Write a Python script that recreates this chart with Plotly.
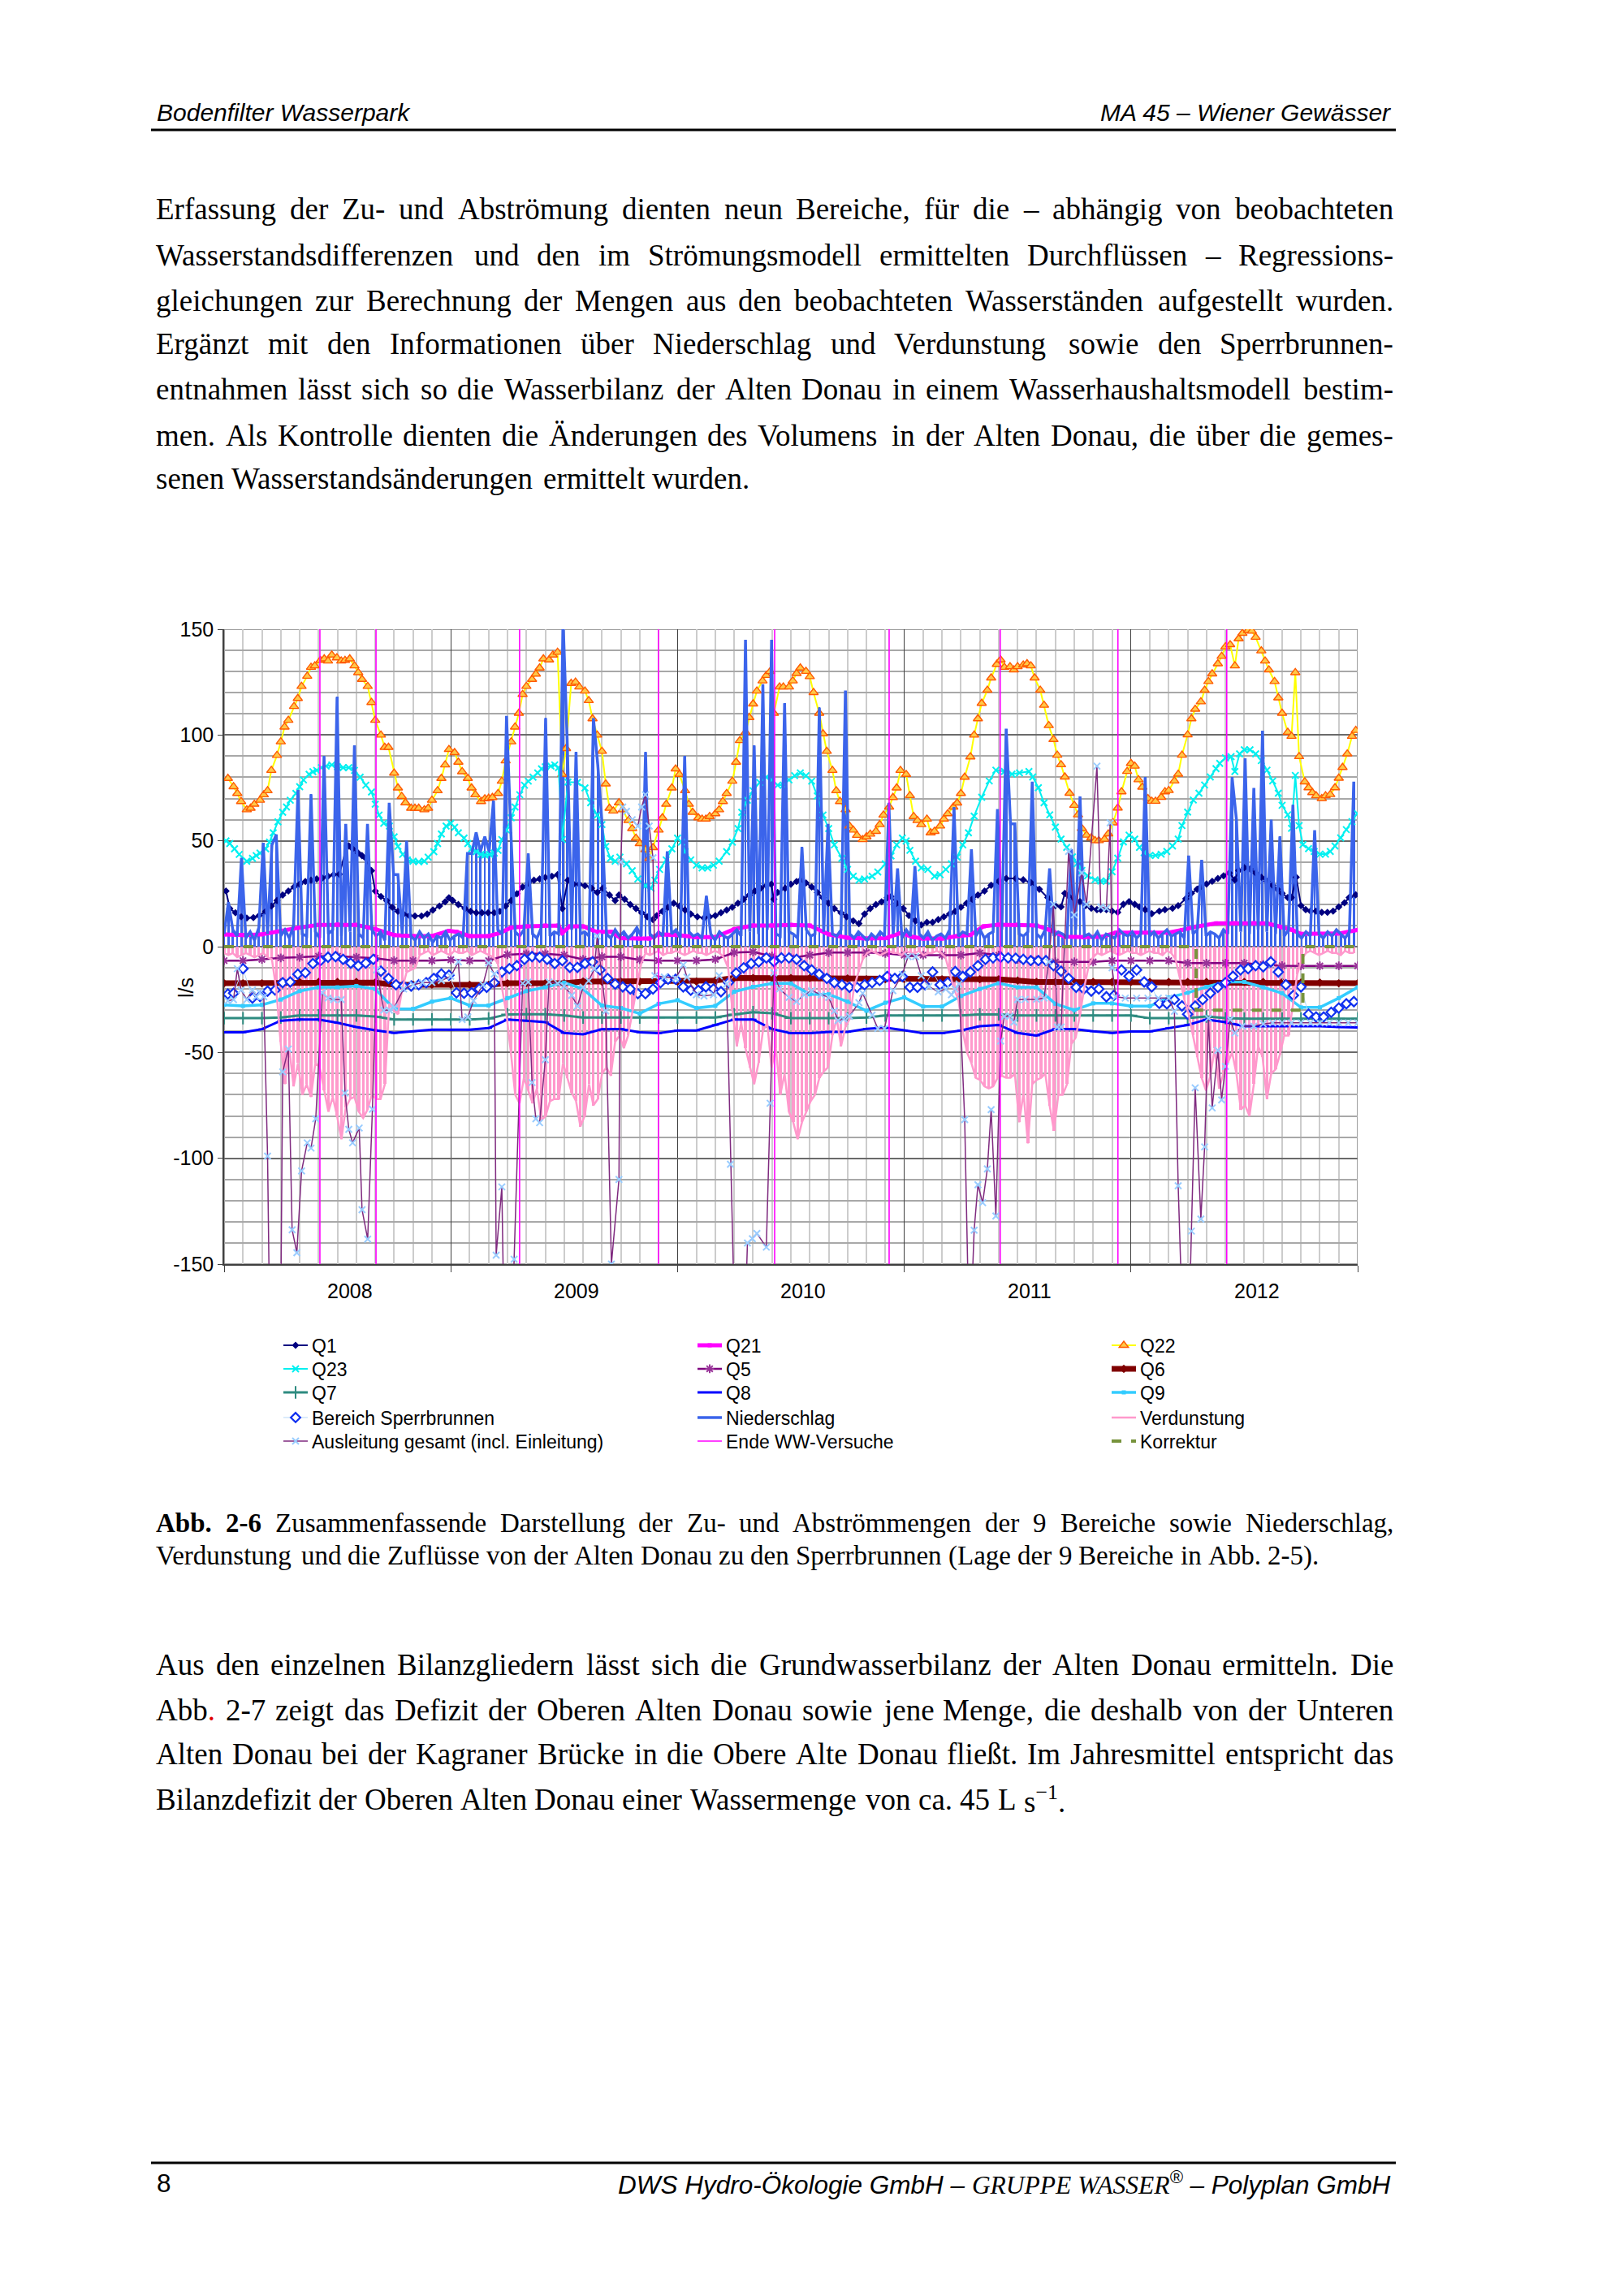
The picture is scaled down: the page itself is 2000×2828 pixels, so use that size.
import numpy as np
import plotly.graph_objects as go

W, H = 2000, 2828
PX0, PX1, PY0, PY1 = 276, 1672, 775, 1557
WEEK = 12 / 52.18  # x unit = months from left edge of the axis

year_labels = ["2008", "2009", "2010", "2011", "2012"]
y_tick_vals = [-150, -100, -50, 0, 50, 100, 150]
y_tick_text = ["-150", "-100", "-50", "0", "50", "100", "150"]

q1 = [(0.1,26.3),(0.3,18),(0.6,16),(0.9,14.1),(1.2,13.5),(1.55,13.7),(1.85,14.7),(2.2,16.7),(2.5,19.2),(2.8,21.8),(3.1,24.4),(3.4,26.3),(3.7,28.2),(4.0,29.5),(4.3,30.8),(4.6,31.4),(4.9,32),(5.2,32.4),(5.5,33.3),(5.8,34),(6.1,34.2),(6.5,47.6),(6.6,47.6),(6.8,46.2),(7.1,44.2),(7.3,43),(7.5,41.7),(7.8,35.9),(8.0,26.3),(8.3,23.7),(8.6,21.8),(8.9,18.6),(9.2,16.7),(9.5,15.4),(9.8,14.7),(10.1,14.5),(10.45,14.5),(10.75,15.4),(11.05,17.3),(11.4,19.2),(11.7,21.2),(11.9,23.1),(12.1,21.8),(12.4,19.9),(12.75,18),(13.05,16.7),(13.35,16),(13.65,16),(13.97,16),(14.3,16),(14.6,16.7),(14.9,19.2),(15.2,21.8),(15.5,25),(15.8,28.2),(16.1,30.1),(16.4,31.4),(16.7,32),(17.0,32.7),(17.35,33.3),(17.65,34),(17.9,18),(18.2,31.4),(18.5,29.5),(18.8,29.5),(19.1,28.8),(19.45,27.6),(19.75,25.6),(20.05,27.6),(20.4,24.4),(20.7,21.8),(20.9,24.4),(21.2,22.4),(21.5,19.9),(21.8,18),(22.1,16),(22.4,14.1),(22.7,12.8),(22.9,14.7),(23.2,16.7),(23.5,18.6),(23.8,20.5),(24.1,19.2),(24.4,17.3),(24.7,15.4),(25.05,14.1),(25.4,13.5),(25.7,14.1),(26.0,14.7),(26.3,16),(26.6,17.3),(26.9,18.6),(27.2,20.5),(27.5,22.4),(27.8,24.4),(28.1,26.3),(28.4,27.6),(28.7,28.8),(28.96,29.5),(29.1,22.4),(29.3,25.6),(29.7,27.6),(30.0,29.5),(30.3,30.8),(30.5,31.4),(30.8,30.1),(31.1,28.2),(31.4,25.6),(31.7,23.1),(32.0,20.5),(32.3,18),(32.65,16),(32.95,14.1),(33.3,12.2),(33.6,10.9),(33.9,15.4),(34.2,18),(34.5,19.9),(34.8,21.2),(35.1,23.1),(35.3,23.7),(35.6,20.5),(35.95,18),(36.25,14.7),(36.6,12.2),(36.9,10.3),(37.2,11.5),(37.5,11.5),(37.8,12.8),(38.1,14.1),(38.4,15.4),(38.7,16.7),(39.0,18.6),(39.3,20.5),(39.6,22.4),(39.9,24.4),(40.25,26.3),(40.6,29),(41.0,30.9),(41.4,32.2),(41.9,32.2),(42.3,31.6),(42.7,30.3),(43.15,27.1),(43.6,23.2),(44.0,19.4),(44.3,18.8),(44.5,25.2),(44.7,23.9),(45.0,22.6),(45.3,21.3),(45.6,19.4),(45.9,18.1),(46.2,17.5),(46.4,17.5),(46.7,17.5),(47.0,16.8),(47.3,16.2),(47.6,20),(47.9,21.3),(48.2,20),(48.45,18.8),(48.75,17.5),(49.1,15.6),(49.5,16.8),(49.8,17.5),(50.2,18.1),(50.5,19.4),(50.9,22.6),(51.2,25.2),(51.5,27.1),(51.7,28.4),(52.0,29.6),(52.3,30.9),(52.6,32.2),(52.9,33.5),(53.2,34.8),(53.5,31.6),(53.7,36),(54.0,37.3),(54.3,36.7),(54.6,34.8),(54.9,32.8),(55.2,30.9),(55.5,29),(55.75,27.1),(56.0,25.2),(56.3,23.2),(56.5,23.2),(56.75,32.8),(57.0,19.4),(57.25,17.5),(57.5,16.8),(57.8,16.8),(58.1,16.2),(58.4,16.2),(58.7,16.8),(59.0,18.8),(59.3,20.7),(59.55,23.2),(59.9,24.5)]

q21 = [(0,5.8),(1,5.5),(2,5.8),(3,7.5),(4,9),(5,10.3),(6,10.5),(7,10.3),(8,8.3),(9,5.5),(10,5),(11,5),(11.9,7.5),(12.3,7),(13,5),(14,5),(14.6,6.5),(15.2,9),(16,9.6),(17,10),(17.7,10),(17.9,6.5),(18.3,9.6),(19,9.6),(19.7,7),(20.5,7),(21,4),(22,3.8),(22.5,3.8),(23,5.8),(24,5.5),(25,4.5),(26,4.5),(27,8.3),(28,10),(29,10),(30,10.3),(31,10),(32,5.8),(33,4.2),(34,3.8),(35,4),(35.8,6.4),(36.5,4.5),(37,3.8),(38,3.8),(38.8,5),(39.5,5.5),(40.2,9.6),(41,10.4),(42,10.4),(43,10),(43.7,7.9),(44.5,4.7),(45.5,4.5),(46.5,4.7),(47.2,6.6),(48,6.6),(49,6.6),(50,6.6),(50.7,7.9),(51.5,9.5),(52.5,11),(53.5,11.1),(54.5,11.1),(55.2,11),(56,9.2),(56.5,8),(57,6),(58,6),(59,6.2),(60,7.9)]

q22 = [(0.2,79.5),(0.5,75.6),(0.7,72.4),(0.9,68.6),(1.2,64.7),(1.4,65.4),(1.6,67.3),(1.9,69.2),(2.1,71.8),(2.3,73.7),(2.5,83.3),(2.8,90.4),(3.0,96.8),(3.2,103.8),(3.4,107),(3.7,113.5),(3.9,117.3),(4.1,123),(4.4,127.8),(4.6,132),(4.8,132.7),(5.1,135.3),(5.3,136),(5.5,135),(5.7,137.8),(5.97,136.5),(6.2,135),(6.4,135.3),(6.65,136),(6.9,132.7),(7.1,129.5),(7.3,126.3),(7.6,123),(7.8,115.4),(8.0,107),(8.3,100),(8.5,94.2),(8.7,94.2),(9.0,82),(9.2,75),(9.4,71),(9.6,68),(9.9,65.4),(10.1,65.4),(10.3,65.4),(10.6,64.7),(10.8,65.4),(11.0,69.2),(11.3,73.7),(11.5,79.5),(11.7,85.9),(11.9,93.2),(12.2,91.7),(12.4,87.2),(12.6,82.7),(12.9,79.5),(13.1,75),(13.3,71.8),(13.6,68.6),(13.8,69.9),(14.0,70.1),(14.2,70.5),(14.5,72.4),(14.7,78.2),(14.9,87.8),(15.2,96.8),(15.4,103.8),(15.6,110.3),(15.8,119.2),(16.0,123),(16.3,126.3),(16.5,128.8),(16.7,131.7),(16.9,136),(17.2,135.5),(17.4,137.8),(17.65,139.1),(17.9,81.4),(18.1,93.6),(18.37,124.4),(18.6,125),(18.8,122.7),(19.1,120.8),(19.3,116.3),(19.5,107.7),(19.75,100),(20.0,92.3),(20.2,76.9),(20.4,65.4),(20.6,64.1),(20.9,68),(21.1,64.7),(21.4,59.6),(21.6,55.8),(21.8,51.3),(22.0,48.7),(22.3,45.8),(22.5,41.7),(22.7,46.8),(23.0,55.1),(23.2,60.9),(23.4,67.3),(23.7,75),(23.9,84),(24.1,81.4),(24.4,73.7),(24.6,67.3),(24.8,63.5),(25.1,60.9),(25.3,60.3),(25.5,60.3),(25.7,61.5),(26.0,62.8),(26.2,64.7),(26.4,68.6),(26.6,72.4),(26.9,78.2),(27.1,87.2),(27.3,97.4),(27.6,101.3),(27.8,108.3),(28.0,114.7),(28.2,120.8),(28.5,125.6),(28.7,128.2),(28.9,130),(29.1,110.3),(29.4,122.7),(29.6,122.7),(29.9,122.7),(30.1,125.6),(30.3,129.1),(30.5,131.7),(30.8,130.1),(31.0,127.6),(31.2,120.1),(31.5,110.3),(31.7,100.6),(31.9,92.3),(32.2,83.3),(32.4,73.7),(32.6,68.6),(32.9,64.7),(33.1,57),(33.3,55.1),(33.5,52.6),(33.8,50.6),(34.0,51.9),(34.2,53.2),(34.5,54.5),(34.7,57.7),(34.9,62.2),(35.2,66),(35.4,70.5),(35.6,75),(35.8,83.3),(36.1,81.4),(36.3,71.4),(36.5,61.5),(36.7,59.6),(36.9,57.7),(37.2,60.3),(37.4,53.8),(37.6,54.5),(37.9,57),(38.1,60.3),(38.3,62.8),(38.6,66),(38.8,67.9),(39.0,72.4),(39.2,80.1),(39.5,89.7),(39.7,100),(39.9,107.7),(40.1,115),(40.4,121.2),(40.6,127),(40.9,133.4),(41.1,135.5),(41.3,132),(41.6,132.3),(41.8,130.8),(42.0,132.3),(42.3,133.1),(42.5,133.7),(42.7,132.7),(42.9,127),(43.2,121.2),(43.4,114.1),(43.65,104.5),(43.9,97.9),(44.1,90.5),(44.3,86),(44.5,80.2),(44.75,72.5),(45.0,66.8),(45.2,62.3),(45.4,55.9),(45.65,52.7),(45.9,51.4),(46.1,50.1),(46.3,50.1),(46.6,50.8),(46.8,53.3),(47.05,58.5),(47.3,65.5),(47.5,73.2),(47.8,82.8),(48.0,86.6),(48.2,85.3),(48.4,78.9),(48.6,75.4),(48.9,70),(49.1,68.7),(49.3,68.7),(49.6,70.6),(49.8,73.2),(50.0,73.8),(50.3,78.3),(50.5,81.5),(50.7,90.5),(51.0,100.1),(51.2,107.7),(51.4,112.2),(51.7,115.7),(51.9,121.2),(52.1,125.3),(52.3,128.9),(52.6,133.7),(52.8,137.2),(53.0,141.7),(53.25,142.7),(53.5,132.7),(53.7,145.5),(53.9,148.1),(54.2,149.4),(54.4,149.1),(54.6,146.2),(54.9,139.8),(55.1,135),(55.3,130.8),(55.6,125.3),(55.8,117.6),(56.0,110.3),(56.3,101.3),(56.5,99.4),(56.7,129.5),(56.9,89.8),(57.2,77.9),(57.4,75.1),(57.6,72.8),(57.8,71.3),(58.1,70),(58.3,71.3),(58.55,71.9),(58.8,75.1),(59.0,79.6),(59.2,84.7),(59.45,91.1),(59.7,99.4),(59.9,102.2)]

q23 = [(0.1,50),(0.3,48.7),(0.55,46.2),(0.8,43.6),(1.2,40.4),(1.5,41.7),(1.7,43),(1.9,44.2),(2.2,46.2),(2.4,49.4),(2.6,53.8),(2.85,59),(3.1,63.5),(3.3,66),(3.5,69.2),(3.8,72.4),(4.0,75.6),(4.2,78.8),(4.5,81.4),(4.7,82.7),(4.9,83.3),(5.15,84.6),(5.4,85.3),(5.7,85.9),(6.0,85),(6.3,84.6),(6.6,84.6),(6.9,83.3),(7.2,80.1),(7.5,76.3),(7.8,73.1),(8.0,67.3),(8.2,62.2),(8.45,58.3),(8.75,57),(9.0,51.9),(9.2,47.4),(9.45,43.6),(9.7,41),(10.0,40.4),(10.3,40.1),(10.6,40.4),(10.8,42.3),(11.1,44.9),(11.3,48.7),(11.5,53.2),(11.75,57),(12.0,58.3),(12.2,56.4),(12.4,53.8),(12.7,51.3),(12.9,48.7),(13.1,46.2),(13.35,44.9),(13.6,43.6),(13.8,43.3),(14.05,43.6),(14.3,44.2),(14.5,45.5),(14.7,50.6),(14.95,55.1),(15.2,60.9),(15.4,66),(15.65,71.8),(15.9,76.3),(16.1,78.2),(16.35,80.1),(16.6,82.1),(16.8,84),(17.0,85),(17.3,85.3),(17.5,85.9),(17.7,84.6),(17.9,50.6),(18.2,77.8),(18.7,77.6),(19.1,75),(19.4,68),(19.75,62.2),(20.0,57.7),(20.2,47.4),(20.45,41.7),(20.7,40.4),(20.95,42.3),(21.3,39.1),(21.6,35.9),(21.9,32),(22.3,28.8),(22.6,27.6),(22.8,31.4),(23.05,36.5),(23.4,41),(23.7,46.2),(24.0,51.3),(24.2,49.4),(24.4,44.9),(24.7,41),(25.0,38.5),(25.3,37.2),(25.6,37.2),(25.9,38.5),(26.2,40.4),(26.6,44.9),(26.9,49.4),(27.2,55.8),(27.4,63.5),(27.7,69.2),(28.0,73.7),(28.35,77.6),(28.7,80.1),(29.0,78.8),(29.3,76.3),(29.6,76.3),(29.9,78.8),(30.2,80.8),(30.5,82.1),(30.8,80.8),(31.1,78.2),(31.4,71.2),(31.7,62.2),(32.0,55.8),(32.3,48.1),(32.7,41.7),(33.0,36.5),(33.3,33.3),(33.6,31.4),(33.9,32),(34.3,33.3),(34.6,35.3),(35.0,39.1),(35.3,42.9),(35.6,48.1),(35.9,51.3),(36.1,50),(36.3,45.5),(36.6,40.4),(36.9,37.2),(37.25,36.5),(37.6,33.3),(37.9,34),(38.2,36.5),(38.5,39.1),(38.8,42.3),(39.1,48.1),(39.4,53.8),(39.7,61.7),(40.1,70.6),(40.5,78.3),(40.85,83.4),(41.3,82.8),(41.7,81.5),(42.1,82.1),(42.6,82.8),(42.8,80.2),(43.1,75.1),(43.4,68),(43.7,62.3),(44.0,56.5),(44.3,50.8),(44.6,46.9),(44.9,42.4),(45.15,39.2),(45.4,36),(45.7,33.5),(46.1,31.6),(46.4,31),(46.7,31),(47.0,35.4),(47.3,41.8),(47.6,49.5),(47.9,52.7),(48.2,50.8),(48.45,46.9),(48.7,44.4),(49.0,43.1),(49.3,43.1),(49.6,43.7),(49.9,45),(50.2,47.6),(50.5,50.8),(50.7,57.2),(51.0,63.6),(51.3,69.3),(51.6,72.5),(51.9,76.4),(52.2,80.2),(52.5,84.1),(52.7,86.6),(53.0,89.2),(53.3,89.8),(53.5,82.8),(53.75,91.1),(54.0,93),(54.3,93),(54.6,91.1),(54.9,87.9),(55.2,83.4),(55.5,78.3),(55.8,72.5),(56.0,66.8),(56.3,62.3),(56.5,55.9),(56.7,80.9),(56.9,57.2),(57.1,48.2),(57.4,46.3),(57.7,45),(58.0,43.7),(58.3,43.7),(58.55,45),(58.8,47.6),(59.1,51.4),(59.4,55.3),(59.7,59.1),(59.98,62.9)]

# monthly values (one per minor grid step)
q5_v = [-6.6,-6.6,-6,-5.3,-5,-4.5,-4.5,-5,-5.5,-6.6,-6.6,-6.6,-6.2,-6.6,-6.6,-3.8,-3.4,-3.4,-4,-6,-4.8,-4.8,-6.2,-6.6,-6.6,-6.6,-6,-2.8,-2.5,-4.5,-5.3,-4,-2.8,-2.8,-2.8,-3.2,-4,-4,-4,-4,-3,-4,-6,-6.4,-7.2,-7.2,-7.2,-6.6,-6.6,-6.6,-6.6,-7.8,-7.8,-7.8,-7.8,-8.5,-9,-9.1,-9.1,-9.1,-9.1]
q6_v = [-17.3,-17.3,-17.3,-17,-16.7,-16.7,-16.7,-16.7,-17,-18,-18,-18,-18,-18,-18,-17.3,-17.3,-17.3,-17.3,-16.5,-16.5,-16.5,-16.5,-16.5,-16.5,-16.5,-16,-14.8,-14.8,-14.8,-14.8,-14.8,-14.8,-15,-15.4,-15.4,-15.4,-15.4,-15.4,-15.4,-15.4,-15.4,-16,-16.7,-16.7,-16.7,-16.7,-16.7,-16.7,-16.7,-16.7,-16.7,-16.7,-16.7,-16.7,-16.7,-16.7,-17,-17,-17.3,-17.3]
q7_v = [-33.8,-33.8,-33.8,-33.5,-32.5,-32.5,-32.5,-32.5,-33,-34.4,-34.4,-34.4,-34.4,-34.4,-34,-32,-31.9,-31.9,-32.5,-33.5,-33.5,-33.5,-33.5,-33.5,-33.5,-33.5,-33.5,-32,-31,-31.5,-33.8,-33.8,-33.8,-33.8,-33.5,-32.5,-32.5,-32.5,-32.5,-32.5,-32,-32,-32.5,-32.5,-32.5,-32.5,-32.5,-32.5,-32.5,-33.8,-33.8,-33.8,-33,-33.8,-34,-34,-34,-34,-34,-34,-34]
q8_v = [-40.5,-40.5,-39,-35,-34.4,-34.4,-36,-38,-39.5,-40.8,-40,-39.2,-39.2,-39.2,-38.5,-34.4,-35,-35.7,-40.8,-41.4,-39,-38.9,-40.5,-40.9,-39.6,-39.6,-37,-34.4,-34.4,-38.9,-40.9,-40.9,-40.3,-40.3,-38.8,-38.3,-39.5,-40.9,-40.9,-39.6,-37.6,-37,-40.8,-42,-38.9,-38.9,-40,-40.8,-40.1,-40.1,-38.5,-37,-34.4,-35.7,-37.6,-37.6,-37.6,-37.6,-37.6,-38,-38.2]
q9_v = [-27.5,-28,-27.5,-25,-21,-19.2,-19.2,-18.6,-20,-29.4,-29.4,-26,-24.3,-27.8,-27.8,-24.3,-21,-19.2,-17,-20,-27.8,-29,-31.6,-27,-25.3,-29,-28,-21.3,-19,-17.4,-17.4,-22.5,-22.5,-26,-30.3,-26.5,-24,-28.3,-28.3,-23.3,-20,-17.3,-19.2,-19.2,-27,-30,-26.8,-26.8,-28.1,-28.1,-24,-21.8,-19,-16.7,-16.7,-19.2,-22,-28.7,-28.7,-24.3,-19.2]

sperr = [(0.2,-22.4),(0.5,-22),(1.0,-10.4),(1.5,-24.3),(1.9,-23.5),(2.3,-21),(2.7,-20.5),(3.1,-17),(3.5,-16.7),(3.9,-13),(4.3,-12.3),(4.7,-8),(5.1,-6.6),(5.5,-5),(5.9,-4.7),(6.3,-6),(6.7,-7.8),(7.1,-9),(7.5,-7.8),(7.9,-6),(8.3,-11.6),(8.7,-15),(9.1,-18),(9.5,-18.6),(9.9,-18.6),(10.3,-18),(10.7,-17),(11.1,-15),(11.5,-12.9),(11.9,-13.5),(12.3,-21.8),(12.7,-22),(13.1,-21.8),(13.5,-20),(13.9,-19.2),(14.3,-17),(14.7,-12),(15.1,-10.4),(15.5,-9),(15.9,-6),(16.3,-4.7),(16.7,-5),(17.1,-6),(17.5,-8),(17.9,-6.6),(18.3,-9.8),(18.7,-9.8),(19.1,-8),(19.5,-7.2),(19.9,-11),(20.3,-15),(20.7,-17.7),(21.1,-19),(21.5,-20),(21.9,-22.2),(22.3,-22.2),(22.7,-20),(23.1,-17),(23.5,-15.4),(23.9,-15.4),(24.3,-19),(24.7,-20.6),(25.1,-20.6),(25.5,-19),(25.9,-20),(26.3,-21.3),(26.7,-17),(27.1,-12.5),(27.5,-10),(27.9,-8),(28.3,-7.2),(28.7,-5.3),(29.1,-7),(29.5,-5.3),(29.9,-5.3),(30.3,-6),(30.7,-9),(31.1,-11),(31.5,-13),(31.9,-15),(32.3,-17),(32.7,-18),(33.1,-19.2),(33.5,-19.2),(33.9,-18),(34.3,-17),(34.7,-16),(35.1,-14.1),(35.5,-15),(35.9,-14.1),(36.3,-19.2),(36.7,-19.2),(37.1,-18),(37.5,-12),(37.9,-18),(38.3,-17),(38.7,-11.8),(39.1,-14.1),(39.5,-12),(39.9,-9),(40.3,-6),(40.7,-5.3),(41.1,-5),(41.5,-5.3),(41.9,-5.5),(42.3,-6),(42.7,-6.6),(43.1,-6.6),(43.5,-6.6),(43.9,-9),(44.3,-11.6),(44.7,-15),(45.1,-19.2),(45.5,-20),(45.9,-21),(46.3,-20),(46.7,-23.7),(47.1,-23),(47.5,-11),(47.9,-14),(48.3,-11),(48.7,-16.7),(49.1,-19),(49.5,-26.8),(49.9,-27),(50.3,-25),(50.7,-28),(51.0,-31.9),(51.4,-28.1),(51.8,-25),(52.2,-22),(52.6,-19.2),(53.0,-17),(53.4,-14),(53.8,-11),(54.2,-10.4),(54.6,-9),(55.0,-9.5),(55.4,-7.2),(55.8,-12),(56.2,-18),(56.6,-23),(57.0,-19),(57.4,-31.9),(57.8,-33.2),(58.2,-33.2),(58.6,-31),(59.0,-29),(59.4,-27),(59.8,-26)]

# weekly values
nieder_v = [6,21,8,5,42,4,7,3,9,49, 6,48,53,5,8,4,10,74,6,5, 72,7,4,90,6,8,118,5,58,7,
            95,6,4,58,8,5,7,3,68,34, 34,6,50,5,3,7,4,6,2,5, 4,7,3,5,6,4,44,44,54,45,
            52,45,69,8,6,109,54,7,5,8, 44,6,4,9,108,5,7,6,155,95, 8,92,6,7,5,108,86,58,6,4,
            8,5,7,4,6,9,5,92,6,4, 7,5,45,6,8,4,90,7,5,6, 4,24,6,3,7,5,4,6,8,5,
            145,7,95,6,124,8,145,6,5,115, 7,6,4,47,8,5,6,113,7,58, 6,5,8,121,6,4,7,5,3,6,
            4,7,5,68,6,37,4,8,5,38, 6,4,7,3,5,6,4,8,66,5, 7,6,46,5,8,4,6,7,65,8,
            103,58,58,6,5,7,78,6,4,8, 37,5,7,6,4,46,8,71,5,6, 4,7,3,6,5,4,8,6,5,7,
            4,6,80,5,7,4,6,8,5,6, 7,4,43,6,8,41,5,7,6,4, 8,6,80,60,7,89,6,75,8,102,
            7,60,6,52,5,8,67,6,4,7, 5,55,6,4,7,5,8,6,4,7,78]
verd_v = [-3,-4,-3,-5,-4,-3,-4,-5,-4,-3, -5,-6,-20,-45,-65,-48,-66,-55,-70,-65, -71,-55,-57,-68,-78,-71,-80,-91,-76,-72,
          -71,-78,-81,-77,-70,-72,-72,-65,-27,-30, -32,-20,-12,-11,-10,-4,-3,-2,-4,-3, -2,-3,-4,-2,-3,-3,-2,-4,-3,-2,
          -3,-4,-5,-8,-20,-32,-50,-70,-74,-62, -68,-74,-67,-82,-80,-73,-72,-72,-55,-62, -69,-73,-85,-80,-65,-75,-72,-60,-57,-61,
          -45,-42,-48,-42,-30,-19,-8,-3,-4,-3, -2,-4,-3,-3,-2,-3,-4,-3,-2,-3, -3,-4,-3,-2,-3,-5,-10,-30,-47,-36,
          -48,-57,-65,-55,-40,-36,-57,-48,-70,-60, -78,-83,-91,-83,-78,-73,-70,-62,-59,-57, -42,-34,-47,-38,-34,-19,-12,-6,-3,-2,
          -3,-4,-3,-2,-3,-3,-4,-2,-3,-3, -2,-4,-3,-3,-2,-3,-5,-12,-20,-25, -40,-50,-55,-62,-63,-66,-67,-66,-62,-61,
          -62,-62,-60,-83,-69,-93,-65,-63,-62,-60, -75,-87,-70,-70,-65,-46,-43,-32,-19,-9, -5,-3,-4,-3,-2,-3,-4,-3,-2,-3,
          -3,-4,-3,-2,-3,-3,-4,-2,-3,-6, -15,-25,-32,-42,-52,-62,-68,-61,-48,-67, -60,-55,-50,-60,-77,-75,-80,-65,-47,-52,
          -72,-60,-58,-51,-42,-42,-27,-13,-6,-3, -2,-3,-4,-3,-2,-3,-3,-4,-2,-3,-3]

ausl = [(0.2,-25.6),(0.5,-25),(0.7,-10.4),(0.9,-20.5),(1.2,-25),(1.5,-20.5),(1.7,-23.7),(1.9,-21.8),(2.1,-23.7),(2.3,-99),(2.4,-170),(3.0,-170),(3.1,-59.2),(3.4,-48.4),(3.6,-133.8),(3.85,-144.6),(4.1,-106),(4.4,-92.7),(4.6,-95.2),(4.85,-81.3),(5.2,-21.8),(5.5,-24.3),(5.8,-25),(6.2,-25),(6.4,-69.2),(6.6,-86.3),(6.8,-92.7),(7.15,-85.7),(7.3,-124.3),(7.6,-138.2),(7.85,-76.8),(8.07,-11),(8.45,-30),(8.75,-30),(9.0,-28.7),(9.5,-20),(10,-18),(10.5,-17),(11,-17),(11.5,-16),(12,-14),(12.4,-7.2),(12.6,-34.4),(12.9,-33.2),(13.2,-25.6),(13.7,-18),(14.0,-7.8),(14.3,-12.9),(14.4,-145.8),(14.7,-113.5),(14.8,-170),(15.3,-170),(15.35,-147.7),(15.8,-17.3),(16.1,-16.7),(16.3,-64.2),(16.5,-81.3),(16.7,-83.2),(17.0,-53.4),(17.2,-16.7),(17.65,-17.3),(18.0,-18.6),(18.4,-23),(18.7,-28.1),(19.0,-19.2),(19.3,-16.1),(19.6,-10.4),(19.75,5),(20.2,-30.4),(20.5,-150),(20.9,-110),(21.0,40),(21.1,66),(21.3,64),(21.6,60),(21.9,57),(22.1,66),(22.3,71.8),(22.5,57),(22.7,42),(22.8,-13.7),(23.3,-14.4),(23.9,-15),(24.3,-8.6),(24.5,-14.4),(25.0,-22.7),(25.4,-23.3),(25.9,-22.7),(26.2,-13.7),(26.6,-17.6),(26.8,-102.8),(27.0,-170),(27.6,-170),(27.7,-140),(27.96,-138),(28.2,-135.5),(28.7,-142),(28.9,-74),(29.1,-12.4),(29.4,-20),(29.9,-24),(30.3,-25.9),(30.7,-22.7),(31.1,-20.8),(31.6,-22.7),(32.0,-24),(32.3,-30.4),(32.5,-34.9),(32.8,-34.2),(33.1,-32.9),(33.6,-26.5),(33.8,-22),(34.3,-32.3),(34.6,-38.7),(34.95,-38.7),(35.4,-20.8),(35.9,-13.1),(36.2,-4.7),(36.6,-4.7),(36.9,-13.7),(37.3,-18.8),(37.8,-21.4),(38.2,-20.1),(38.5,-22.7),(38.7,-20.1),(38.9,-17.6),(39.2,-81.7),(39.4,-170),(39.55,-170),(39.7,-134),(39.9,-112.5),(40.15,-121),(40.4,-105),(40.6,-77),(40.85,-127.3),(41.1,-44.6),(41.3,-33),(41.6,-32.8),(41.8,-35.7),(42.0,-25),(42.4,-24.9),(43.0,-24.9),(43.4,-24.3),(43.65,-7.2),(43.9,20),(44.1,-38),(44.3,-38),(44.7,45),(45.0,15),(45.4,34.8),(45.65,20),(46.2,85.3),(46.4,18.8),(46.7,18.1),(46.9,58.5),(47.0,-10),(47.2,-23.7),(47.7,-24.3),(48.3,-24.3),(48.9,-24.3),(49.45,-24.3),(50.0,-24.3),(50.3,-30.6),(50.5,-113),(50.7,-170),(51.1,-170),(51.2,-134.4),(51.4,-66.7),(51.7,-128.7),(51.9,-94.6),(52.1,-33.8),(52.3,-76.2),(52.6,-49),(52.8,-72.4),(53.0,-56.6),(53.25,-34.4),(53.5,-40.8),(53.9,-37.6),(54.5,-37.6),(55,-36.5),(55.5,-36),(56,-36),(56.5,-36),(57,-36),(57.5,-36),(58,-36),(58.5,-36),(59,-36),(59.5,-36),(60,-36)]

ww_ende_m = [5.07, 8.04, 15.64, 22.99, 29.14, 35.2, 41.08, 47.31, 53.07]
korrektur = [(0, 0), (51.45, 0), (51.45, -30), (57.1, -30), (57.1, 0), (60, 0)]

LEGEND_ROWS_Y = [1657, 1686, 1715, 1746, 1775]


def xy(pairs):
    return [p[0] for p in pairs], [p[1] for p in pairs]


def px(x):
    return x / W


def py(y):
    return 1 - y / H


fig = go.Figure()
months = np.arange(61)
weeks = np.arange(len(nieder_v)) * WEEK
weeks_v = np.arange(len(verd_v)) * WEEK

# comb bars (drawn under the lines)
fig.add_trace(go.Bar(x=weeks, y=nieder_v, width=0.12, marker=dict(color="#3B64EB", line_width=0),
                     showlegend=False, hoverinfo="skip"))
fig.add_trace(go.Bar(x=weeks_v, y=verd_v, width=0.14, marker=dict(color="#FF99CC", line_width=0),
                     showlegend=False, hoverinfo="skip"))

n_legend = [0]


def line(name, x, y, color, width=2, marker=None, mode="lines+markers", dash=None, **kw):
    k = n_legend[0] // 3
    n_legend[0] += 1
    leg = "legend" if k == 0 else "legend%d" % (k + 1)
    fig.add_trace(go.Scatter(x=x, y=y, name=name, mode=mode, legend=leg,
                             line=dict(color=color, width=width, dash=dash),
                             marker=marker or dict(), **kw))


x, y = xy(q1)
line("Q1", x, y, "#000080", 2, dict(symbol="diamond", size=7, color="#000080"))
x, y = xy(q21)
line("Q21", x, y, "#FF00FF", 5, dict(symbol="square", size=5, color="#FF00FF"))
x, y = xy(q22)
line("Q22", x, y, "#FFFF00", 2, dict(symbol="triangle-up", size=10, color="#FFC848",
                                     line=dict(color="#FF5A00", width=1.4)))
x, y = xy(q23)
line("Q23", x, y, "#00F0F0", 2, dict(symbol="x-thin", size=8, color="#00F0F0",
                                     line=dict(color="#00F0F0", width=2)))
line("Q5", months, q5_v, "#800080", 2.5, dict(symbol="asterisk", size=9, color="#993399",
                                               line=dict(color="#993399", width=2)))
line("Q6", months, q6_v, "#800000", 7, dict(symbol="diamond", size=8, color="#800000"))
line("Q7", months, q7_v, "#2E8B80", 3, dict(symbol="cross-thin", size=11, color="#2E8B80",
                                            line=dict(color="#2E8B80", width=2)))
line("Q8", months, q8_v, "#0000FF", 3, dict(symbol="line-ew", size=6, color="#0000FF",
                                            line=dict(color="#0000FF", width=2)))
line("Q9", months, q9_v, "#33CCFF", 3.5, dict(symbol="square", size=5, color="#33CCFF"))
x, y = xy(sperr)
line("Bereich Sperrbrunnen", x, y, "#B8D8F8", 1, dict(symbol="diamond", size=9, color="white",
                                                     line=dict(color="#1030F0", width=2.2)))
line("Niederschlag", weeks, nieder_v, "#3B64EB", 3.5, mode="lines")
line("Verdunstung", weeks_v, verd_v, "#FF99CC", 2.5, mode="lines")
x, y = xy(ausl)
line("Ausleitung gesamt (incl. Einleitung)", x, y, "#7F2A7F", 1.5,
     dict(symbol="x-thin", size=8, color="#99CCFF", line=dict(color="#99CCFF", width=2)))
wx, wy = [], []
for m in ww_ende_m:
    wx += [m, m, None]
    wy += [y_tick_vals[0], y_tick_vals[-1], None]
line("Ende WW-Versuche", wx, wy, "#FF00FF", 1.6, mode="lines")
x, y = xy(korrektur)
line("Korrektur", x, y, "#77933C", 4, mode="lines", dash="dash")

annotations = []
for i, lab in enumerate(year_labels):
    annotations.append(dict(x=i * 12 + 6.65, y=py(1590), xref="x", yref="paper", text=lab,
                            showarrow=False, font=dict(family="Liberation Sans", size=25, color="black")))
annotations.append(dict(x=px(213), y=py(1217), xref="paper", yref="paper", text="l/s", textangle=-90,
                        showarrow=False, font=dict(family="Liberation Sans", size=25, color="black")))

# ---------------- page text ----------------
TR = {' ': 250, ',': 250, '-': 333, '.': 250, '(': 333, ')': 333, ':': 278, '–': 500,
      'A': 722, 'B': 667, 'C': 667, 'D': 722, 'E': 611, 'F': 556, 'G': 722, 'H': 722, 'I': 333, 'J': 389,
      'K': 722, 'L': 611, 'M': 889, 'N': 722, 'O': 722, 'P': 556, 'Q': 722, 'R': 667, 'S': 556, 'T': 611,
      'U': 722, 'V': 722, 'W': 944, 'X': 722, 'Y': 722, 'Z': 611, 'a': 444, 'b': 500, 'c': 444, 'd': 500,
      'e': 444, 'f': 333, 'g': 500, 'h': 500, 'i': 278, 'j': 278, 'k': 500, 'l': 278, 'm': 778, 'n': 500,
      'o': 500, 'p': 500, 'q': 500, 'r': 333, 's': 389, 't': 278, 'u': 500, 'v': 500, 'w': 722, 'x': 500,
      'y': 500, 'z': 444, 'ä': 444, 'ö': 500, 'ü': 500, 'Ä': 722, 'Ö': 722, 'Ü': 722, 'ß': 500}
TB = {'A': 722, 'b': 556, '.': 250, '-': 333}


def tw(s, fs, bold=False):
    tot = 0
    for c in s:
        if bold and c in TB:
            tot += TB[c]
        else:
            tot += TR.get(c, 500)
    return tot * fs / 1000


def text_line(s, y, fs, justify, left=191, right=1715, bold_n=0, disp=None):
    words = s.split(" ")
    widths = [tw(w, fs, i < bold_n) for i, w in enumerate(words)]
    gap = (right - left - sum(widths)) / (len(words) - 1) if justify and len(words) > 1 else 0.25 * fs
    xx = left
    for i, w in enumerate(words):
        t = (disp or {}).get(w, w)
        if i < bold_n:
            t = "<b>" + t + "</b>"
        annotations.append(dict(x=px(xx), y=py(y), xref="paper", yref="paper", text=t, showarrow=False,
                                xanchor="left", yanchor="middle", borderpad=0,
                                font=dict(family="Liberation Serif", size=fs, color="black")))
        xx += widths[i] + gap


para1 = ["Erfassung der Zu- und Abströmung dienten neun Bereiche, für die – abhängig von beobachteten",
         "Wasserstandsdifferenzen und den im Strömungsmodell ermittelten Durchflüssen – Regressions-",
         "gleichungen zur Berechnung der Mengen aus den beobachteten Wasserständen aufgestellt wurden.",
         "Ergänzt mit den Informationen über Niederschlag und Verdunstung sowie den Sperrbrunnen-",
         "entnahmen lässt sich so die Wasserbilanz der Alten Donau in einem Wasserhaushaltsmodell bestim-",
         "men. Als Kontrolle dienten die Änderungen des Volumens in der Alten Donau, die über die gemes-",
         "senen Wasserstandsänderungen ermittelt wurden."]
caption = ["Abb. 2-6 Zusammenfassende Darstellung der Zu- und Abströmmengen der 9 Bereiche sowie Niederschlag,",
           "Verdunstung und die Zuflüsse von der Alten Donau zu den Sperrbrunnen (Lage der 9 Bereiche in Abb. 2-5)."]
para2 = ["Aus den einzelnen Bilanzgliedern lässt sich die Grundwasserbilanz der Alten Donau ermitteln. Die",
         "Abb. 2-7 zeigt das Defizit der Oberen Alten Donau sowie jene Menge, die deshalb von der Unteren",
         "Alten Donau bei der Kagraner Brücke in die Obere Alte Donau fließt. Im Jahresmittel entspricht das",
         "Bilanzdefizit der Oberen Alten Donau einer Wassermenge von ca. 45 L s-1."]

for i, (s, yy) in enumerate(zip(para1, [258, 314, 370, 424, 480, 536, 590])):
    text_line(s, yy, 37, i < len(para1) - 1)
text_line(caption[0], 1876, 33, True, bold_n=2)
text_line(caption[1], 1916, 33, False)
disp2 = {"Abb.": "Abb<span style='color:#E00000'>.</span>", "s-1.": "s<sup>−1</sup>."}
for i, (s, yy) in enumerate(zip(para2, [2050, 2106, 2160, 2216])):
    text_line(s, yy, 37, i < len(para2) - 1, disp=disp2)

hdr_font = dict(family="Liberation Sans", size=30, color="black")
ftr_font = dict(family="Liberation Sans", size=31.5, color="black")
annotations += [
    dict(x=px(191), y=py(139), xref="paper", yref="paper", text="<i>Bodenfilter Wasserpark</i>",
         showarrow=False, xanchor="left", yanchor="middle", font=hdr_font),
    dict(x=px(1715), y=py(139), xref="paper", yref="paper", text="<i>MA 45 – Wiener Gewässer</i>",
         showarrow=False, xanchor="right", yanchor="middle", font=hdr_font),
    dict(x=px(191), y=py(2689), xref="paper", yref="paper", text="8",
         showarrow=False, xanchor="left", yanchor="middle", font=ftr_font),
    dict(x=px(1715), y=py(2689), xref="paper", yref="paper",
         text="<i>DWS Hydro-Ökologie GmbH – <span style='font-family:Liberation Serif'>GRUPPE WASSER</span>"
              "<sup>®</sup> – Polyplan GmbH</i>",
         showarrow=False, xanchor="right", yanchor="middle", font=ftr_font),
]

shapes = [
    dict(type="line", xref="paper", yref="paper", x0=px(186), x1=px(1719), y0=py(160), y1=py(160),
         line=dict(color="black", width=3)),
    dict(type="line", xref="paper", yref="paper", x0=px(186), x1=px(1719), y0=py(2664), y1=py(2664),
         line=dict(color="black", width=3)),
    dict(type="rect", xref="x", yref="y", x0=0, x1=60, y0=y_tick_vals[0], y1=y_tick_vals[-1],
         line=dict(color="#808080", width=1.5), layer="below"),
]

legends = {}
for k, ry in enumerate(LEGEND_ROWS_Y):
    key = "legend" if k == 0 else "legend%d" % (k + 1)
    legends[key] = dict(orientation="h", x=px(344), xanchor="left", y=py(ry - 21.5), yanchor="top",
                        entrywidth=465, entrywidthmode="pixels",
                        font=dict(size=23, family="Liberation Sans", color="black"),
                        bgcolor="rgba(0,0,0,0)", traceorder="normal", itemsizing="trace")

fig.update_layout(
    width=W, height=H, margin=dict(l=0, r=0, t=0, b=0, pad=0, autoexpand=False), autosize=False,
    paper_bgcolor="white", plot_bgcolor="white", barmode="overlay", bargap=0,
    font=dict(family="Liberation Sans", color="black"),
    xaxis=dict(domain=[px(PX0), px(PX1)], range=[0, 60], tick0=0, dtick=12, showticklabels=False,
               ticks="outside", ticklen=8, tickcolor="#404040", showgrid=True, gridcolor="#404040",
               gridwidth=1, zeroline=False, showline=True, linecolor="#404040", linewidth=2,
               automargin=False,
               minor=dict(tick0=0, dtick=1, showgrid=True, gridcolor="#CCCCCC", gridwidth=1.5)),
    yaxis=dict(domain=[py(PY1), py(PY0)], range=[-150, 150], tickmode="array", tickvals=y_tick_vals,
               ticktext=y_tick_text, ticks="outside", ticklen=6, tickcolor="#404040",
               tickfont=dict(size=25, family="Liberation Sans", color="black"),
               showgrid=True, gridcolor="#6A6A6A", gridwidth=1.5, zeroline=False,
               showline=True, linecolor="#404040", linewidth=1.5, automargin=False,
               minor=dict(tick0=0, dtick=10, showgrid=True, gridcolor="#A8A8A8", gridwidth=1.5)),
    annotations=annotations, shapes=shapes, showlegend=True,
    **legends,
)

fig.write_html("out.html", config={"displayModeBar": False})
with open("out.html", encoding="utf-8") as f:
    html = f.read()
html = html.replace("<body>", '<body style="margin:0;padding:0">', 1)
with open("out.html", "w", encoding="utf-8") as f:
    f.write(html)
